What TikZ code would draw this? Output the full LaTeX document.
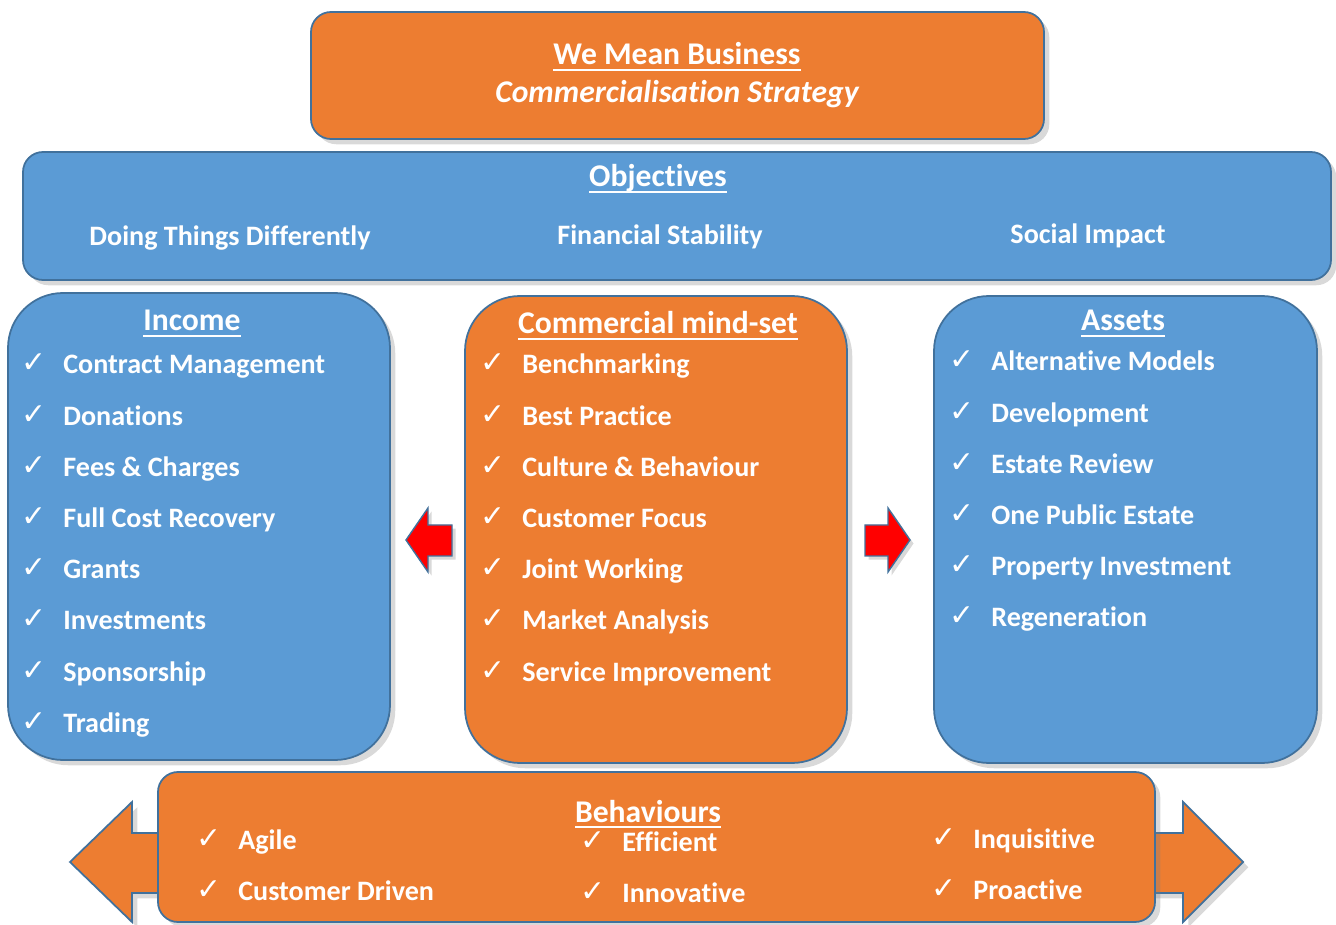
\documentclass[tikz,border=0pt]{standalone}
\usepackage{fontspec}
\setmainfont{Carlito}[Ligatures=NoCommon, Contextuals=NoAlternate]
\newfontfamily\tickfont{DejaVu Sans}
\usetikzlibrary{fit,shadows}

\definecolor{boxorange}{HTML}{ED7D31}
\definecolor{boxblue}{HTML}{5B9BD5}
\definecolor{boxline}{HTML}{41719C}
\newcommand{\tick}{{\tickfont\char"2713}}
\newcommand{\undl}[1]{\leavevmode\setbox0=\hbox{#1}\rlap{\vrule width\wd0 height -2.2pt depth 3.4pt}\box0}

\tikzset{
    box/.style={draw=boxline, line width=1pt, inner sep=0pt,
        drop shadow={opacity=0.3, shadow xshift=3pt, shadow yshift=-3pt}},
    orangebox/.style={box, fill=boxorange},
    bluebox/.style={box, fill=boxblue},
    heading/.style={text=white, anchor=base, font=\fontsize{18}{22}\selectfont\bfseries},
    item/.style={text=white, anchor=base west, inner sep=0pt, font=\fontsize{16}{19}\selectfont\bfseries},
    tickmark/.style={text=white, anchor=base, inner sep=0pt, font=\fontsize{17}{20}\selectfont},
    redarrow/.style={fill=red, draw=boxline, line width=0.8pt,
        drop shadow={opacity=0.3, shadow xshift=2pt, shadow yshift=-2pt}},
}

\begin{document}
\begin{tikzpicture}[x=0.02cm, y=-0.02cm]
    \useasboundingbox (0,0) rectangle (1336,925);

    % Defining the boxes
    \node[orangebox, rounded corners=0.4cm, fit={(311,12) (1044,139)}] (strategy) {};
    \node[bluebox, rounded corners=0.4cm, fit={(23,152) (1331,280)}] (objectives) {};
    \node[bluebox, rounded corners=1.1cm, fit={(8,293) (390,760)}] (income) {};
    \node[orangebox, rounded corners=1.1cm, fit={(465,296) (847,763)}] (mindset) {};
    \node[bluebox, rounded corners=1.1cm, fit={(934,296) (1317,763)}] (assets) {};

    % Arrows between the boxes
    \draw[redarrow] (406,540) -- (428,508) -- (428,525) -- (452,525) -- (452,556)
        -- (428,556) -- (428,572) -- cycle;
    \draw[redarrow] (910,540) -- (888,508) -- (888,525) -- (865,525) -- (865,556)
        -- (888,556) -- (888,572) -- cycle;
    \draw[box, fill=boxorange] (70,862) -- (132,802) -- (132,833) -- (1183,833) -- (1183,802)
        -- (1243,862) -- (1183,922) -- (1183,893) -- (132,893) -- (132,922) -- cycle;
    \node[orangebox, rounded corners=0.4cm, fit={(158,772) (1155,922)}] (behaviours) {};

    % Headings
    \node[heading] (strategytitle) at (677,65) {\undl{We Mean Business}};
    \node[heading, font=\fontsize{18}{22}\selectfont\bfseries\itshape] (strategysub) at (677,103) {Commercialisation Strategy};
    \node[heading] (objectivestitle) at (658,187) {\undl{Objectives}};
    \node[heading] (incometitle) at (192,331) {\undl{Income}};
    \node[heading] (mindsettitle) at (658,334) {\undl{Commercial mind-set}};
    \node[heading] (assetstitle) at (1123,331) {\undl{Assets}};
    \node[heading] (behaviourstitle) at (648,822) {\undl{Behaviours}};

    % Objectives
    \node[heading, font=\fontsize{16}{19}\selectfont\bfseries] (obj1) at (230,246) {Doing Things Differently};
    \node[heading, font=\fontsize{16}{19}\selectfont\bfseries] (obj2) at (660,245) {Financial Stability};
    \node[heading, font=\fontsize{16}{19}\selectfont\bfseries] (obj3) at (1088,244) {Social Impact};

    % Lists
    \foreach \t [count=\i from 0] in {Contract Management, Donations, Fees \& Charges,
        Full Cost Recovery, Grants, Investments, Sponsorship, Trading} {
        \node[tickmark] (inctick\i) at (34, 373+51.2*\i) {\tick};
        \node[item] (inc\i) at (63, 374+51.2*\i) {\t};
    }
    \foreach \t [count=\i from 0] in {Benchmarking, Best Practice, Culture \& Behaviour,
        Customer Focus, Joint Working, Market Analysis, Service Improvement} {
        \node[tickmark] (comtick\i) at (493, 373+51.2*\i) {\tick};
        \node[item] (com\i) at (522, 374+51.2*\i) {\t};
    }
    \foreach \t [count=\i from 0] in {Alternative Models, Development, Estate Review,
        One Public Estate, Property Investment, Regeneration} {
        \node[tickmark] (asttick\i) at (962, 370+51.2*\i) {\tick};
        \node[item] (ast\i) at (991, 371+51.2*\i) {\t};
    }
    \foreach \x/\y/\t [count=\i] in {238/849/Agile, 238/900/Customer Driven,
        622/851/Efficient, 622/902/Innovative, 973/848/Inquisitive, 973/899/Proactive} {
        \node[tickmark] (behtick\i) at (\x-29, \y-1) {\tick};
        \node[item] (beh\i) at (\x, \y) {\t};
    }
\end{tikzpicture}
\end{document}
